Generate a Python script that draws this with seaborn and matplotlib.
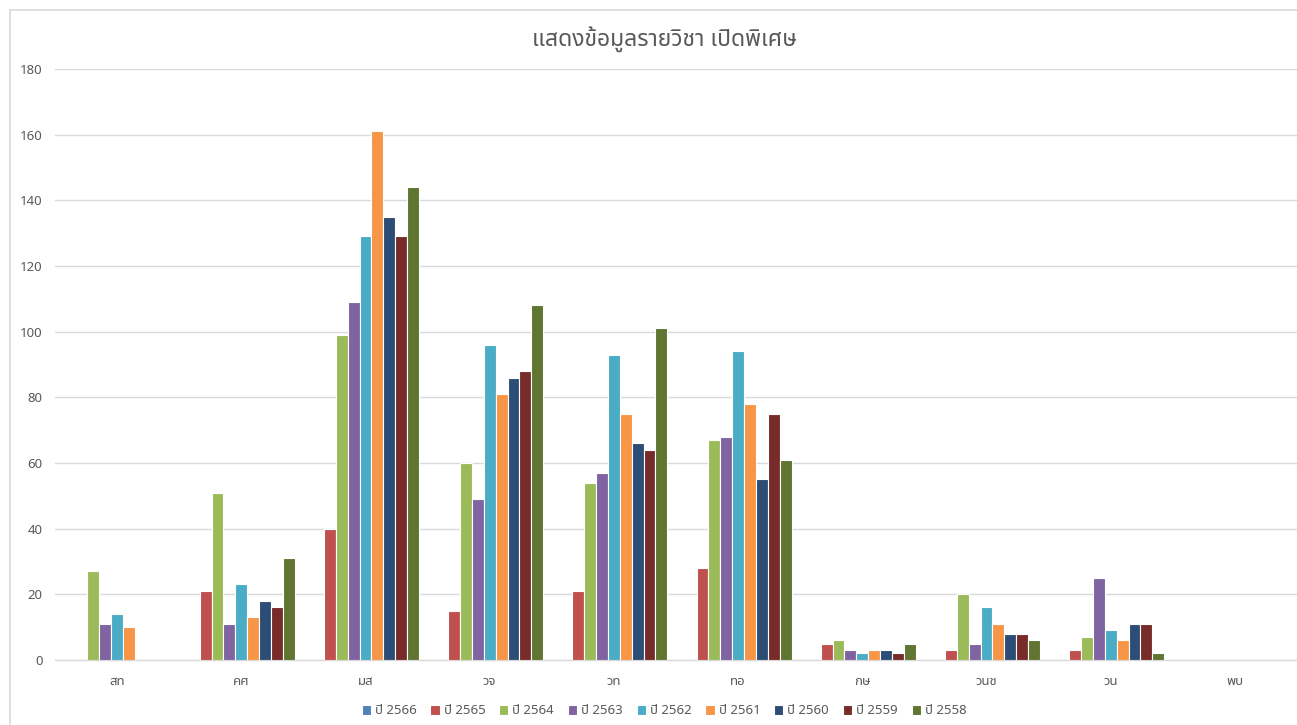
import numpy as np
import pandas as pd
import matplotlib
matplotlib.use("Agg")
import matplotlib.pyplot as plt
import seaborn as sns
from matplotlib import font_manager
from matplotlib.ft2font import FT2Font
from matplotlib.lines import Line2D

# data
subjects = ["สท", "คศ", "มส", "วจ", "วท", "ทอ", "กษ", "วนช", "วน", "พบ"]
years = ["ปี 2566", "ปี 2565", "ปี 2564", "ปี 2563", "ปี 2562",
         "ปี 2561", "ปี 2560", "ปี 2559", "ปี 2558"]

y2566 = [0, 0, 0, 0, 0, 0, 0, 0, 0, 0]
y2565 = [0, 21, 40, 15, 21, 28, 5, 3, 3, 0]
y2564 = [27, 51, 99, 60, 54, 67, 6, 20, 7, 0]
y2563 = [11, 11, 109, 49, 57, 68, 3, 5, 25, 0]
y2562 = [14, 23, 129, 96, 93, 94, 2, 16, 9, 0]
y2561 = [10, 13, 161, 81, 75, 78, 3, 11, 6, 0]
y2560 = [0, 18, 135, 86, 66, 55, 3, 8, 11, 0]
y2559 = [0, 16, 129, 88, 64, 75, 2, 8, 11, 0]
y2558 = [0, 31, 144, 108, 101, 61, 5, 6, 2, 0]

colors = ["#4F81BD", "#C0504D", "#9BBB59", "#8064A2", "#4BACC6",
          "#F79646", "#2C4D75", "#772C2A", "#5F7530"]

title = "แสดงข้อมูลรายวิชา เปิดพิเศษ"

series = [y2566, y2565, y2564, y2563, y2562, y2561, y2560, y2559, y2558]
rows = []
for yr, vals in zip(years, series):
    for s, v in zip(subjects, vals):
        rows.append({"subject": s, "year": yr, "count": v})
df = pd.DataFrame(rows)


# find a font that has Thai glyphs
def find_thai_font():
    preferred = ["Tahoma", "Leelawadee UI", "Leelawadee", "Noto Sans Thai",
                 "Noto Sans Thai UI", "Loma", "Garuda", "Sarabun", "Waree",
                 "Umpush", "Kinnari", "Norasi", "Laksaman"]
    found = {}
    for f in font_manager.fontManager.ttflist:
        try:
            cmap = FT2Font(f.fname).get_charmap()
        except Exception:
            continue
        if 0x0E2A in cmap and 0x0E1B in cmap:
            found.setdefault(f.name, f.fname)
    for p in preferred:
        if p in found:
            return p
    return next(iter(found), None)


sns.set_theme(style="white")
thai = find_thai_font()
fams = [thai, "DejaVu Sans"] if thai else ["DejaVu Sans"]
plt.rcParams["font.family"] = fams

W, H = 1297, 725
fig = plt.figure(figsize=(W / 100, H / 100), dpi=100)
ax = fig.add_axes([55 / W, 1 - 660 / H, 1 - 55 / W, (660 - 69) / H])

sns.barplot(data=df, x="subject", y="count", hue="year", palette=colors,
            width=0.86, edgecolor="white", linewidth=0.8, saturation=1,
            ax=ax, zorder=3)

grid_c = "#D9D9D9"
text_c = "#595959"
ax.set_ylim(0, 180)
ax.set_xlim(-0.5, len(subjects) - 0.5)
ax.set_yticks(np.arange(0, 181, 20))
ax.yaxis.grid(True, color=grid_c, linewidth=1, zorder=0)
ax.set_axisbelow(True)
for sp in ["top", "right", "left"]:
    ax.spines[sp].set_visible(False)
ax.spines["bottom"].set_color(grid_c)
ax.spines["bottom"].set_linewidth(1)
ax.set_xlabel("")
ax.set_ylabel("")
ax.tick_params(axis="both", length=0, colors=text_c, labelsize=9.5)
ax.tick_params(axis="y", pad=9)
ax.tick_params(axis="x", pad=11)

handles, labels = ax.get_legend_handles_labels()
ax.get_legend().remove()
fig.legend(handles, labels, loc="center", ncol=9,
           bbox_to_anchor=(664 / W, 1 - 711 / H), frameon=False,
           fontsize=9.5, handlelength=0.7, handleheight=0.7,
           handletextpad=0.3, columnspacing=1.05, labelcolor=text_c)

fig.text(664 / W, 1 - 40 / H, title, ha="center", va="center",
         fontsize=16.5, color=text_c)

# chart area border (left and top edges are visible)
fig.add_artist(Line2D([10 / W, 10 / W], [0, 1 - 10 / H], color=grid_c,
                      linewidth=1.2, transform=fig.transFigure))
fig.add_artist(Line2D([10 / W, 1], [1 - 10 / H, 1 - 10 / H], color=grid_c,
                      linewidth=1.2, transform=fig.transFigure))

fig.savefig("out.png", dpi=100, facecolor="white")
